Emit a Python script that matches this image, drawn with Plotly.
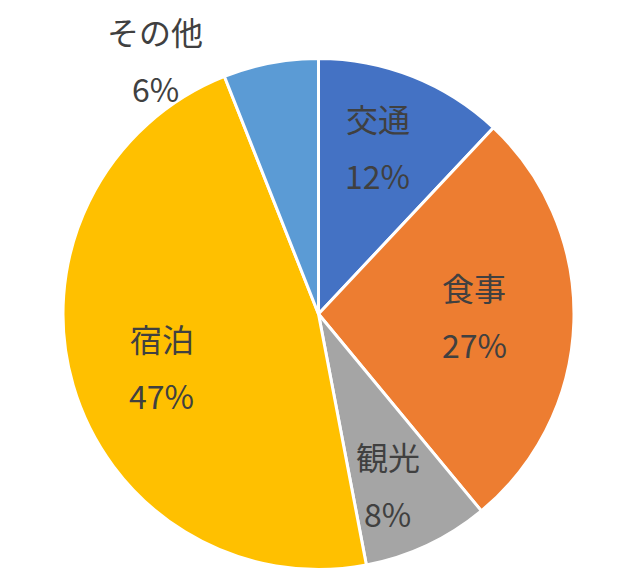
"""Pie chart of travel spending by category (Excel-style labels)."""
import math
import plotly.graph_objects as go

# data
categories = ["交通", "食事", "観光", "宿泊", "その他"]
shares = [12, 27, 8, 47, 6]

# styling
colors = ["#4472C4", "#ED7D31", "#A5A5A5", "#FFC000", "#5B9BD5"]
label_radius = [0.688, 0.614, 0.741, 0.656, 1.18]   # fraction of pie radius
label_turn = [-1.7, 0.2, 3.5, -3.5, -22.3]          # degrees off the slice middle
font_family = "Noto Sans CJK JP, Noto Sans, sans-serif"
text_color = "#404040"

W, H = 635, 580
PAGE = 8  # default body margin of the html page
cx, cy, R = 318.5 - PAGE, 314 - PAGE, 253.5  # pie centre / radius in pixels
R_DOM = R + 2  # plotly draws the pie a touch inside its domain
LINE_GAP = 28.5  # half the distance between label and percent lines
TEXT_NUDGE = 4   # font box sits a little low, lift it

fig = go.Figure(go.Pie(
    labels=categories,
    values=shares,
    sort=False,
    direction="clockwise",
    rotation=0,
    marker=dict(colors=colors, line=dict(color="white", width=3)),
    textinfo="none",
    hoverinfo="label+percent",
    showlegend=False,
    domain=dict(x=[(cx - R_DOM) / W, (cx + R_DOM) / W],
                y=[1 - (cy + R_DOM) / H, 1 - (cy - R_DOM) / H]),
))

# labels at the middle of each slice, like Excel's data labels
total = sum(shares)
start = 0
for name, v, rf, turn in zip(categories, shares, label_radius, label_turn):
    mid = (start + v / 2) / total * 360 + turn
    start += v
    px = cx + rf * R * math.sin(math.radians(mid))
    py = cy - rf * R * math.cos(math.radians(mid))
    pct = f"{round(v / total * 100)}%"
    for txt, shift in ((name, LINE_GAP), (pct, -LINE_GAP)):
        fig.add_annotation(
            x=px / W, y=1 - py / H, xref="paper", yref="paper",
            text=txt, showarrow=False, yshift=shift + TEXT_NUDGE,
            xanchor="center", yanchor="middle",
            font=dict(family=font_family, size=32, color=text_color),
        )

fig.update_layout(
    width=W, height=H,
    margin=dict(l=0, r=0, t=0, b=0),
    paper_bgcolor="white",
    plot_bgcolor="white",
)

fig.write_html("out.html")
